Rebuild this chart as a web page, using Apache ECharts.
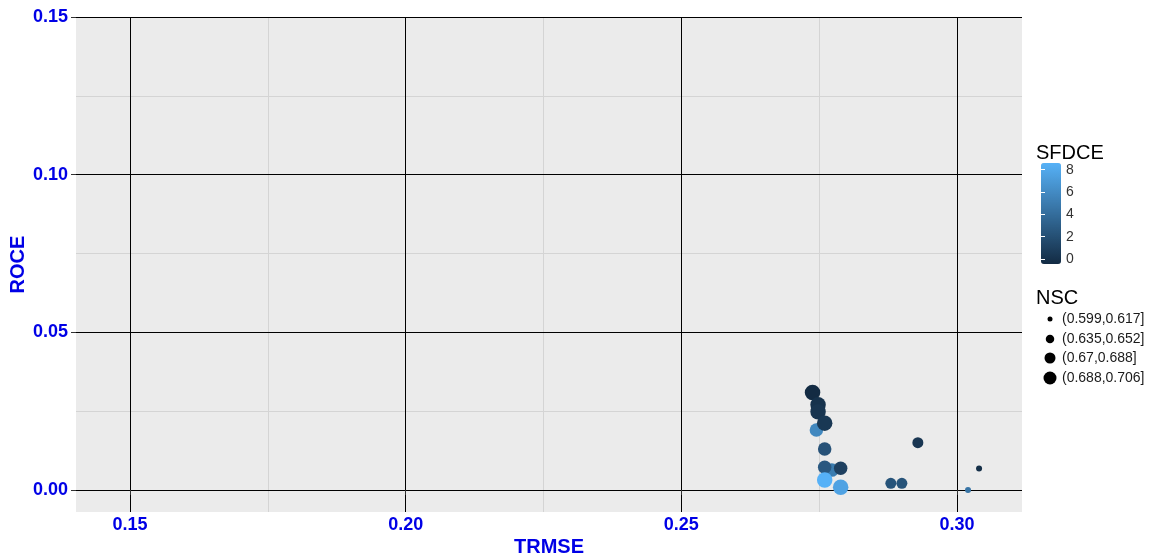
<!DOCTYPE html>
<html>
<head>
<meta charset="utf-8">
<title>ROCE vs TRMSE</title>
<script src="https://cdn.jsdelivr.net/npm/echarts@6/dist/echarts.min.js"></script>
<style>
  html, body { margin: 0; padding: 0; background: #ffffff; }
  #chart { width: 1149px; height: 557px; }
</style>
</head>
<body>
<div id="chart"></div>
<script>
// Model runs: TRMSE (x), ROCE (y), SFDCE (colour), NSC bin (size)
const trmse  = [0.3040, 0.3020, 0.2880, 0.2900, 0.2929, 0.2745, 0.2760, 0.2773, 0.2760, 0.2789, 0.2738, 0.2748, 0.2748, 0.2760, 0.2760, 0.2789];
const roce   = [0.0068, 0.0000, 0.0021, 0.0021, 0.0150, 0.0190, 0.0130, 0.0063, 0.0072, 0.0069, 0.0309, 0.0270, 0.0248, 0.0212, 0.0032, 0.0009];
const sfdce  = [-0.2, 4.5, 2.3, 2.3, 0.3, 5.8, 2.2, 5.0, 2.6, 1.0, -0.45, 0.0, 0.2, 0.4, 8.6, 7.6];
const nscBin = [0, 0, 1, 1, 1, 2, 2, 2, 2, 2, 3, 3, 3, 3, 3, 3];

// NSC size classes
const nscLabels = ['(0.599,0.617]', '(0.635,0.652]', '(0.67,0.688]', '(0.688,0.706]'];
const nscSizes  = [6, 11, 13.5, 15.5];
const keySizes  = [5, 8.5, 11, 13];

// Axis breaks
const xBreaks = [0.15, 0.20, 0.25, 0.30];
const xMinor  = [0.175, 0.225, 0.275];
const yBreaks = [0.00, 0.05, 0.10, 0.15];
const yMinor  = [0.025, 0.075, 0.125];
const colourBreaks = [0, 2, 4, 6, 8];

const FONT = '"Liberation Sans", Arial, sans-serif';
const AXIS_BLUE = '#0000E6';
const xRange = [0.14021, 0.31179];
const yRange = [-0.00698, 0.15];
const colourRange = [-0.45, 8.6];
const rowCentres = [319, 339, 358, 378];
const keyCentreX = 1050;

const series = nscLabels.map((label, b) => ({
  type: 'scatter',
  name: label,
  xAxisIndex: 0,
  yAxisIndex: 0,
  symbol: 'circle',
  symbolSize: nscSizes[b],
  itemStyle: { opacity: 1, borderWidth: 0 },
  emphasis: { disabled: true },
  data: trmse.map((x, i) => [x, roce[i], sfdce[i], nscBin[i]]).filter(d => d[3] === b)
}));

const chart = echarts.init(document.getElementById('chart'), null, { renderer: 'canvas' });
chart.setOption({
  animation: false,
  backgroundColor: '#ffffff',
  textStyle: { fontFamily: FONT },
  title: [
    { text: 'SFDCE', left: 1036, top: 143, padding: 0,
      textStyle: { fontSize: 20, fontWeight: 'normal', color: '#000', fontFamily: FONT } },
    { text: 'NSC', left: 1036, top: 288, padding: 0,
      textStyle: { fontSize: 20, fontWeight: 'normal', color: '#000', fontFamily: FONT } }
  ],
  grid: [
    { left: 76, right: 127, top: 17, bottom: 45, show: true, backgroundColor: '#EBEBEB',
      borderWidth: 0, outerBoundsMode: 'none', containLabel: false },
    { left: 1041, top: 163, width: 20, height: 101, show: false, outerBoundsMode: 'none' }
  ],
  xAxis: [
    {
      type: 'value', gridIndex: 0, min: xRange[0], max: xRange[1],
      name: 'TRMSE', nameLocation: 'middle', nameGap: 25, nameMoveOverlap: false,
      nameTextStyle: { fontSize: 20, fontWeight: 'bold', color: AXIS_BLUE, fontFamily: FONT },
      axisLine: { show: false },
      axisTick: { show: true, length: 5, customValues: xBreaks, lineStyle: { color: '#333', width: 1 } },
      axisLabel: { customValues: xBreaks, margin: 4, fontSize: 18, fontWeight: 'bold', color: AXIS_BLUE,
                   fontFamily: FONT, formatter: v => v.toFixed(2) },
      splitLine: { show: true, lineStyle: { color: '#000', width: 1 } },
      z: 1
    },
    {
      type: 'value', gridIndex: 0, min: xRange[0], max: xRange[1], position: 'top',
      axisLine: { show: false },
      axisTick: { show: false, customValues: xMinor },
      axisLabel: { show: false, customValues: xMinor },
      splitLine: { show: true, lineStyle: { color: '#D4D4D4', width: 1 } },
      z: 0
    },
    {
      type: 'value', gridIndex: 1, min: 0, max: 1, show: false
    }
  ],
  yAxis: [
    {
      type: 'value', gridIndex: 0, min: yRange[0], max: yRange[1],
      name: 'ROCE', nameLocation: 'middle', nameGap: 48, nameRotate: 90, nameMoveOverlap: false,
      nameTextStyle: { fontSize: 20, fontWeight: 'bold', color: AXIS_BLUE, fontFamily: FONT },
      axisLine: { show: false },
      axisTick: { show: true, length: 5, customValues: yBreaks, lineStyle: { color: '#333', width: 1 } },
      axisLabel: { customValues: yBreaks, margin: 8, fontSize: 18, fontWeight: 'bold', color: AXIS_BLUE,
                   fontFamily: FONT, formatter: v => v.toFixed(2) },
      splitLine: { show: true, lineStyle: { color: '#000', width: 1 } },
      z: 1
    },
    {
      type: 'value', gridIndex: 0, min: yRange[0], max: yRange[1], position: 'right',
      axisLine: { show: false },
      axisTick: { show: false, customValues: yMinor },
      axisLabel: { show: false, customValues: yMinor },
      splitLine: { show: true, lineStyle: { color: '#D4D4D4', width: 1 } },
      z: 0
    },
    {
      // colour bar scale with labels
      type: 'value', gridIndex: 1, min: colourRange[0], max: colourRange[1], position: 'right',
      axisLine: { show: false },
      axisTick: { show: true, inside: true, length: 4, customValues: colourBreaks,
                  lineStyle: { color: '#ffffff', width: 1 } },
      axisLabel: { customValues: colourBreaks, margin: 5, fontSize: 14, color: '#333', fontFamily: FONT },
      splitLine: { show: false },
      z: 10
    },
    {
      type: 'value', gridIndex: 1, min: colourRange[0], max: colourRange[1], position: 'left',
      axisLine: { show: false },
      axisTick: { show: true, inside: true, length: 4, customValues: colourBreaks,
                  lineStyle: { color: '#ffffff', width: 1 } },
      axisLabel: { show: false },
      splitLine: { show: false },
      z: 10
    }
  ],
  visualMap: {
    type: 'continuous',
    seriesIndex: [0, 1, 2, 3],
    dimension: 2,
    min: colourRange[0],
    max: colourRange[1],
    inRange: { color: ['#132B43', '#56B1F7'] },
    orient: 'vertical',
    left: 1041,
    top: 163,
    itemWidth: 20,
    itemHeight: 101,
    padding: 0,
    calculable: false,
    hoverLink: false,
    text: null,
    showLabel: false,
    z: 4
  },
  legend: nscLabels.map((label, b) => ({
    data: [{ name: label, icon: 'circle', itemStyle: { color: '#000' } }],
    orient: 'vertical',
    left: keyCentreX - keySizes[b] / 2,
    top: rowCentres[b] - 7,
    padding: 0,
    itemWidth: keySizes[b],
    itemHeight: keySizes[b],
    selectedMode: false,
    textStyle: { fontSize: 14, color: '#1a1a1a', fontFamily: FONT,
                 padding: [0, 0, 0, Math.max(0, 7 - keySizes[b] / 2)] }
  })),
  series: series
});
</script>
</body>
</html>
